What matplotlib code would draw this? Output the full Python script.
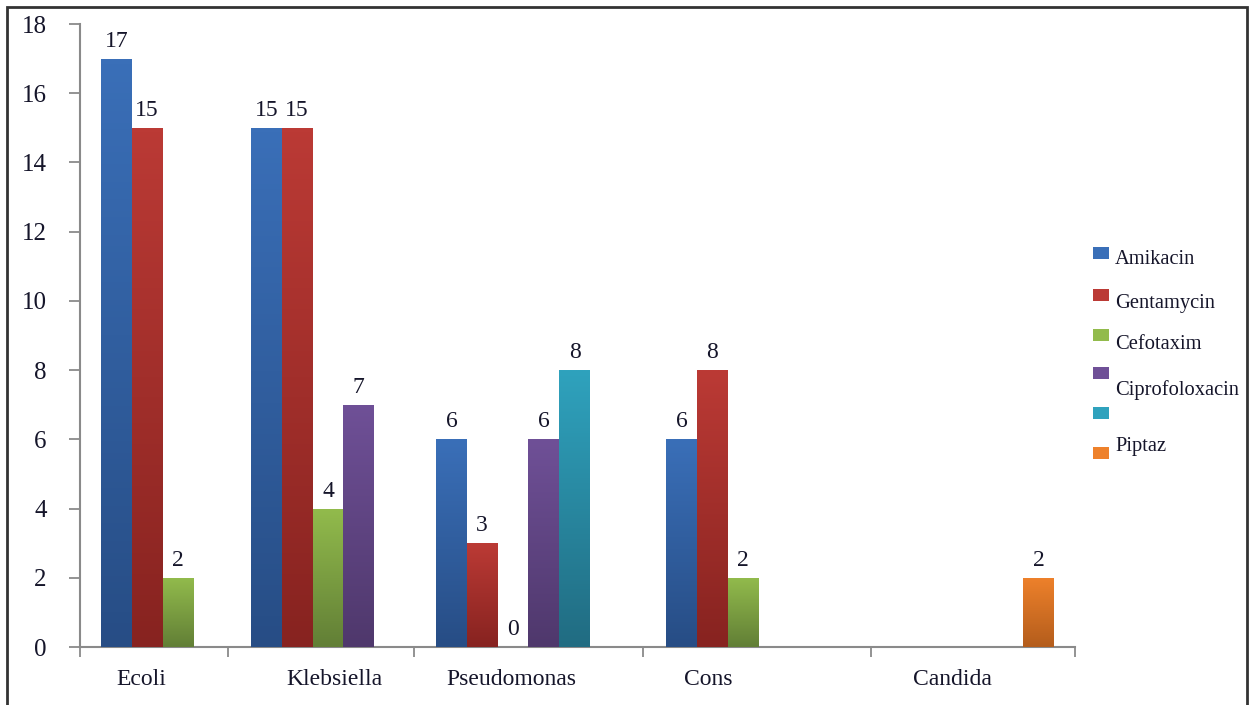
#!/usr/bin/env python
# grouped bar chart, excel style gradient bars

import numpy as np
import matplotlib
matplotlib.use('Agg')
import matplotlib.pyplot as plt
from matplotlib.colors import LinearSegmentedColormap
from matplotlib.patches import Rectangle

nan = np.nan
organisms = ['Ecoli', 'Klebsiella', 'Pseudomonas', 'Cons', 'Candida']
drugs = ['Amikacin', 'Gentamycin', 'Cefotaxim', 'Ciprofoloxacin', '', 'Piptaz']
amikacin   = [17, 15, 6, 6, nan]
gentamycin = [15, 15, 3, 8, nan]
cefotaxim  = [2, 4, 0, 2, nan]
cipro      = [nan, 7, 6, nan, nan]
unnamed    = [nan, nan, 8, nan, nan]
piptaz     = [nan, nan, nan, nan, 2]
series = [amikacin, gentamycin, cefotaxim, cipro, unnamed, piptaz]
yticks = [0, 2, 4, 6, 8, 10, 12, 14, 16, 18]

# (top, bottom) gradient colours
colors = [('#3a6fb8', '#274d85'), ('#bb3a35', '#872320'), ('#92bb4c', '#627f36'),
          ('#6f5097', '#4f386c'), ('#2fa2bd', '#216c82'), ('#ee812b', '#b45d1c')]

# layout (x axis in pixel units of the original)
edges = [80, 228, 414, 643, 871, 1075]
label_pos = [141, 334, 511, 708, 952]
group_start = [101, 251, 436, 666, 869]
bw = 30.8

plt.rcParams['font.family'] = ['Liberation Serif', 'DejaVu Serif']
txtc = '#15152a'

W, H = 1250, 705
fig = plt.figure(figsize=(W / 100, H / 100), dpi=100)
ax = fig.add_axes([80 / W, 1 - 647 / H, (1075 - 80) / W, 623 / H])

grad = np.linspace(0, 1, 100).reshape(-1, 1)
for s, (vals, (ctop, cbot)) in enumerate(zip(series, colors)):
    cmap = LinearSegmentedColormap.from_list('g%d' % s, [cbot, ctop])
    for g, v in enumerate(vals):
        if np.isnan(v):
            continue
        x0 = group_start[g] + s * bw
        bars = ax.bar(x0, v, width=bw, align='edge', color=cbot, linewidth=0, zorder=2)
        if v > 0:
            im = ax.imshow(grad, extent=[x0, x0 + bw, 0, v], origin='lower', aspect='auto',
                           cmap=cmap, zorder=3)
            im.set_clip_path(bars[0])
        ax.annotate('%d' % v, (x0 + bw / 2, v), xytext=(0, 5), textcoords='offset points',
                    ha='center', va='bottom', fontsize=17, color=txtc)

ax.set_xlim(edges[0], edges[-1])
ax.set_ylim(0, 18)
ax.set_yticks(yticks)
ax.set_yticklabels([str(t) for t in yticks], fontsize=18, color=txtc)
ax.set_xticks(edges, minor=True)
ax.set_xticks(label_pos)
ax.set_xticklabels(organisms, fontsize=17, color=txtc)
ax.tick_params(axis='x', which='major', length=0, pad=16)
ax.tick_params(axis='x', which='minor', length=7, width=1.3, color='#8a8a8a')
ax.tick_params(axis='y', length=8, width=1.3, color='#8a8a8a', pad=16)
for sp in ['top', 'right']:
    ax.spines[sp].set_visible(False)
for sp in ['left', 'bottom']:
    ax.spines[sp].set_color('#8a8a8a')
    ax.spines[sp].set_linewidth(1.5)

# legend drawn by hand to keep the odd label placement
sq_y = [253, 295, 335, 373, 413, 453]
txt_y = [259, 303, 345, 390, None, 447]
for i, name in enumerate(drugs):
    fig.add_artist(Rectangle((1093 / W, 1 - (sq_y[i] + 6) / H), 16 / W, 12 / H,
                             transform=fig.transFigure, facecolor=colors[i][0],
                             edgecolor='none'))
    if name:
        fig.text(1115 / W, 1 - txt_y[i] / H, name, fontsize=14.8, color=txtc,
                 ha='left', va='center')

# outer frame
fig.add_artist(Rectangle((7 / W, -0.05), 1240 / W, 1.05 - 7 / H, transform=fig.transFigure,
                         fill=False, edgecolor='#333333', linewidth=2))

fig.savefig('out.png', dpi=100)
